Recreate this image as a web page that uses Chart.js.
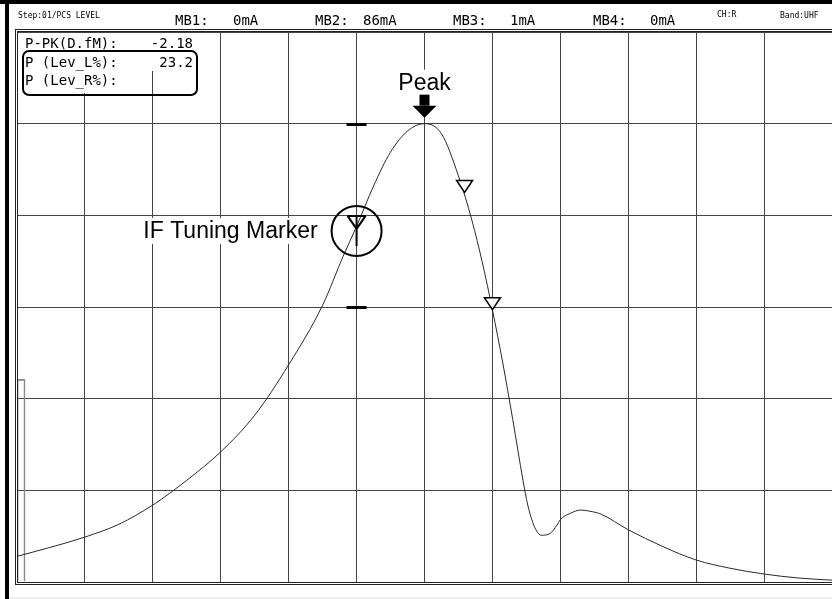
<!DOCTYPE html>
<html>
<head>
<meta charset="utf-8">
<script src="https://cdn.jsdelivr.net/npm/chart.js@4"></script>
<style>
  body { margin: 0; background: #fff; }
  #wrap { width: 832px; height: 599px; }
</style>
</head>
<body>
<div id="wrap"><canvas id="levelChart" width="832" height="599"></canvas></div>
<script>
// curve, in grid divisions (12 x 6)
const curveX = [0, 0.5, 1, 1.5, 2, 2.5, 3, 3.5, 4, 4.5, 4.8, 5, 5.25, 5.5, 5.75, 6, 6.25, 6.5, 6.7, 6.85, 7, 7.15, 7.3, 7.45, 7.52, 7.58, 7.64, 7.72, 7.85, 7.95, 8, 8.15, 8.3, 8.45, 8.6, 9, 9.5, 10, 10.5, 11, 11.5, 12];
const curveY = [0.28, 0.38, 0.49, 0.63, 0.84, 1.11, 1.42, 1.82, 2.37, 3.02, 3.55, 3.88, 4.32, 4.69, 4.92, 5.0, 4.89, 4.43, 3.94, 3.49, 2.97, 2.40, 1.77, 1.11, 0.84, 0.68, 0.57, 0.51, 0.53, 0.62, 0.68, 0.75, 0.785, 0.77, 0.74, 0.57, 0.39, 0.24, 0.15, 0.087, 0.044, 0.02];

// level bar on the left edge
const levelX = [0.06];
const levelY = [2.21];

// markers
const peakPos = [6, 5.0];
const triMarkersX = [6.59, 7.0];
const triMarkersY = [4.25, 2.97];
const ifMarker = [5, 3.83];
const ifRange = [5.0, 3.0];

// header + readout text
const headerSmall = ['Step:01/PCS LEVEL', 'CH:R', 'Band:UHF'];
const mbLabels = ['MB1:', 'MB2:', 'MB3:', 'MB4:'];
const mbValues = ['0mA', '86mA', '1mA', '0mA'];
const readLabels = ['P-PK(D.fM):', 'P (Lev_L%):', 'P (Lev_R%):'];
const readValues = ['-2.18', '23.2', ''];

const mono = '"DejaVu Sans Mono", "Liberation Mono", monospace';
const sans = '"Liberation Sans", Arial, sans-serif';

function textBox(ctx, text, x, y, align, pad) {
    const w = ctx.measureText(text).width;
    const left = align === 'right' ? x - w : (align === 'center' ? x - w / 2 : x);
    ctx.fillStyle = '#fff';
    ctx.fillRect(left - pad, y - 20, w + pad * 2, 26);
    ctx.fillStyle = '#000';
    ctx.textAlign = align;
    ctx.fillText(text, x, y);
}

const screenPlugin = {
    id: 'screen',
    beforeDatasetsDraw(chart) {
        const ctx = chart.ctx;
        const xs = chart.scales.x, ys = chart.scales.y;
        ctx.save();

        // readout block in the top-left corner
        ctx.fillStyle = '#fff';
        ctx.fillRect(18, 33, 180, 38);
        ctx.fillRect(24, 71, 116, 22);
        ctx.fillStyle = '#000';
        ctx.font = '14px ' + mono;
        ctx.textBaseline = 'alphabetic';
        const rowY = [48, 67, 85];
        readLabels.forEach((t, i) => {
            ctx.textAlign = 'left';
            ctx.fillText(t, 25, rowY[i]);
            ctx.textAlign = 'right';
            ctx.fillText(readValues[i], 193, rowY[i]);
        });
        ctx.lineWidth = 2;
        ctx.strokeStyle = '#000';
        ctx.beginPath();
        ctx.roundRect(23, 51, 174, 44, 6);
        ctx.stroke();

        // Peak label + arrow
        const px = xs.getPixelForValue(peakPos[0]);
        const py = ys.getPixelForValue(peakPos[1]);
        ctx.font = '23px ' + sans;
        textBox(ctx, 'Peak', px, py - 34, 'center', 2);
        ctx.fillStyle = '#000';
        ctx.fillRect(px - 5, py - 29, 10, 11);
        ctx.beginPath();
        ctx.moveTo(px - 12, py - 18);
        ctx.lineTo(px + 12, py - 18);
        ctx.lineTo(px, py - 6);
        ctx.closePath();
        ctx.fill();

        // IF tuning marker text
        const cx = xs.getPixelForValue(ifMarker[0]);
        const cy = ys.getPixelForValue(ifMarker[1]);
        ctx.font = '23px ' + sans;
        textBox(ctx, 'IF Tuning Marker', cx - 39, cy + 7, 'right', 2);

        // range dashes
        ctx.fillStyle = '#000';
        ifRange.forEach(v => {
            const yy = ys.getPixelForValue(v);
            ctx.fillRect(cx - 10, Math.round(yy) - 1, 20, 3);
        });
        ctx.restore();
    },
    afterDatasetsDraw(chart) {
        const ctx = chart.ctx;
        const xs = chart.scales.x, ys = chart.scales.y;
        ctx.save();

        // triangle markers, apex on the curve
        ctx.lineWidth = 1.5;
        ctx.strokeStyle = '#000';
        triMarkersX.forEach((v, i) => {
            const x = xs.getPixelForValue(v);
            const y = ys.getPixelForValue(triMarkersY[i]);
            ctx.beginPath();
            ctx.moveTo(x - 8, y - 12);
            ctx.lineTo(x + 8, y - 12);
            ctx.lineTo(x, y);
            ctx.closePath();
            ctx.fillStyle = '#fff';
            ctx.fill();
            ctx.stroke();
        });

        // IF marker circle + antenna
        const cx = xs.getPixelForValue(ifMarker[0]);
        const cy = ys.getPixelForValue(ifMarker[1]);
        ctx.lineWidth = 2;
        ctx.beginPath();
        ctx.arc(cx, cy, 25, 0, Math.PI * 2);
        ctx.stroke();
        ctx.beginPath();
        ctx.moveTo(cx - 9, cy - 15);
        ctx.lineTo(cx + 9, cy - 15);
        ctx.moveTo(cx - 9, cy - 15);
        ctx.lineTo(cx, cy - 2);
        ctx.lineTo(cx + 9, cy - 15);
        ctx.moveTo(cx, cy - 15);
        ctx.lineTo(cx, cy + 15);
        ctx.stroke();
        ctx.restore();
    },
    afterDraw(chart) {
        const ctx = chart.ctx;
        const a = chart.chartArea;
        ctx.save();
        // screen frame
        ctx.fillStyle = '#000';
        ctx.fillRect(0, 0, 832, 4);
        ctx.fillRect(5, 0, 4, 599);
        ctx.fillStyle = '#eee';
        ctx.fillRect(9, 597, 823, 2);
        ctx.strokeStyle = '#222';
        ctx.lineWidth = 1;
        ctx.strokeRect(15.5, 29.5, 830, 555);
        ctx.strokeRect(a.left + 0.5, a.top - 0.5, 830, a.bottom - a.top + 1);

        // header
        ctx.fillStyle = '#000';
        ctx.textAlign = 'left';
        ctx.font = '8px ' + mono;
        ctx.fillText(headerSmall[0], 18, 18);
        ctx.fillText(headerSmall[1], 717, 17);
        ctx.fillText(headerSmall[2], 780, 18);
        ctx.font = '14px ' + mono;
        const mbX = [175, 315, 453, 593];
        const valX = [233, 363, 510, 650];
        mbLabels.forEach((t, i) => {
            ctx.fillText(t, mbX[i], 25);
            ctx.fillText(mbValues[i], valX[i], 25);
        });
        ctx.restore();
    }
};

new Chart(document.getElementById('levelChart'), {
    type: 'scatter',
    data: {
        datasets: [{
            type: 'scatter',
            data: curveX.map((x, i) => ({ x: x, y: curveY[i] })),
            showLine: true,
            pointRadius: 0,
            borderColor: '#2a2a2a',
            borderWidth: 1,
            cubicInterpolationMode: 'monotone'
        }, {
            type: 'bar',
            data: levelX.map((x, i) => ({ x: x, y: levelY[i] })),
            barThickness: 8,
            backgroundColor: 'rgba(0,0,0,0)',
            borderColor: '#888',
            borderWidth: 1
        }]
    },
    options: {
        responsive: false,
        animation: false,
        layout: { padding: { left: 17, top: 32, right: 0, bottom: 17 } },
        plugins: { legend: { display: false }, tooltip: { enabled: false } },
        scales: {
            x: {
                type: 'linear', min: 0, max: 12, offset: false,
                ticks: { display: false, stepSize: 1 },
                grid: { color: '#444', drawTicks: false, offset: false },
                border: { display: false }
            },
            y: {
                type: 'linear', min: 0, max: 6,
                ticks: { display: false, stepSize: 1 },
                grid: { color: '#444', drawTicks: false },
                border: { display: false }
            }
        }
    },
    plugins: [screenPlugin]
});
</script>
</body>
</html>
